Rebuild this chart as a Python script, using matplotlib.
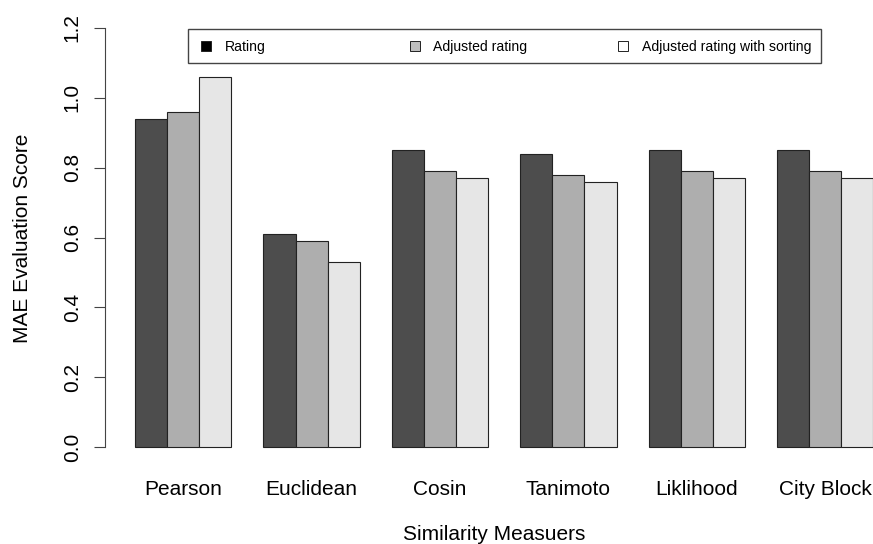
#!/usr/bin/env python3

import matplotlib
matplotlib.use('Agg')
import matplotlib.pyplot as plt
from matplotlib.patches import Rectangle
import numpy as np

# Data
measures = ['Pearson', 'Euclidean', 'Cosin', 'Tanimoto', 'Liklihood', 'City Block']
rating = [0.94, 0.61, 0.85, 0.84, 0.85, 0.85]
adjusted = [0.96, 0.59, 0.79, 0.78, 0.79, 0.79]
adjusted_sorted = [1.06, 0.53, 0.77, 0.76, 0.77, 0.77]
series_names = ['Rating', 'Adjusted rating', 'Adjusted rating with sorting']

bar_colors = ['#4d4d4d', '#aeaeae', '#e6e6e6']
legend_colors = ['#000000', '#bebebe', '#ffffff']

W, H = 873, 544
plt.rcParams['font.family'] = ['Liberation Sans', 'DejaVu Sans']

fig = plt.figure(figsize=(W / 100, H / 100), dpi=100)

# R-style plot region: x in bar units (32.1 px each), y 0 at 447px, 1.2 at 28px
ux = 32.1
uy = (447 - 28) / 1.2
xlim = (0.08, 24.92)
ylim = (-0.048, 1.248)
left = 135 - (1 - xlim[0]) * ux
top = 28 - (ylim[1] - 1.2) * uy
width = (xlim[1] - xlim[0]) * ux
height = (ylim[1] - ylim[0]) * uy
ax = fig.add_axes([left / W, 1 - (top + height) / H, width / W, height / H])

# R barplot(beside=TRUE) layout: one empty unit before each group of 3
series = [rating, adjusted, adjusted_sorted]
n = len(measures)
group_start = 1 + 4 * np.arange(n)
for i, vals in enumerate(series):
    ax.bar(group_start + i, vals, width=1.0, align='edge', color=bar_colors[i],
           edgecolor='#222222', linewidth=0.8)

ax.set_xlim(*xlim)
ax.set_ylim(*ylim)

for s in ['top', 'right', 'bottom']:
    ax.spines[s].set_visible(False)
ax.spines['left'].set_bounds(0, 1.2)
ax.spines['left'].set_color('#444444')

ax.set_yticks(np.arange(0, 1.21, 0.2))
ax.set_yticklabels(['%.1f' % v for v in np.arange(0, 1.21, 0.2)], rotation=90,
                   va='center', fontsize=15)
ax.tick_params(axis='y', length=8, width=0.8, color='#444444', pad=9)

ax.set_xticks(group_start + 1.5)
ax.set_xticklabels(measures, fontsize=15)
ax.tick_params(axis='x', length=0, pad=12)

fig.text(494 / W, 1 - 535 / H, 'Similarity Measuers', ha='center', va='center', fontsize=15)
fig.text(23 / W, 1 - 238 / H, 'MAE Evaluation Score', ha='center', va='center',
         rotation=90, fontsize=15)

# Legend drawn by hand in pixel positions
fig.patches.append(Rectangle((188 / W, 1 - 63 / H), 633 / W, 34 / H, transform=fig.transFigure,
                             facecolor='white', edgecolor='#444444', linewidth=1.0))
sq_x = [206, 415, 623]
txt_x = [225, 433, 642]
for name, c, sx, tx in zip(series_names, legend_colors, sq_x, txt_x):
    fig.patches.append(Rectangle(((sx - 5) / W, 1 - 51 / H), 10 / W, 10 / H,
                                 transform=fig.transFigure, facecolor=c,
                                 edgecolor='#222222', linewidth=0.7))
    fig.text(tx / W, 1 - 46.5 / H, name, ha='left', va='center', fontsize=10.1)

fig.savefig('out.png', dpi=100)
